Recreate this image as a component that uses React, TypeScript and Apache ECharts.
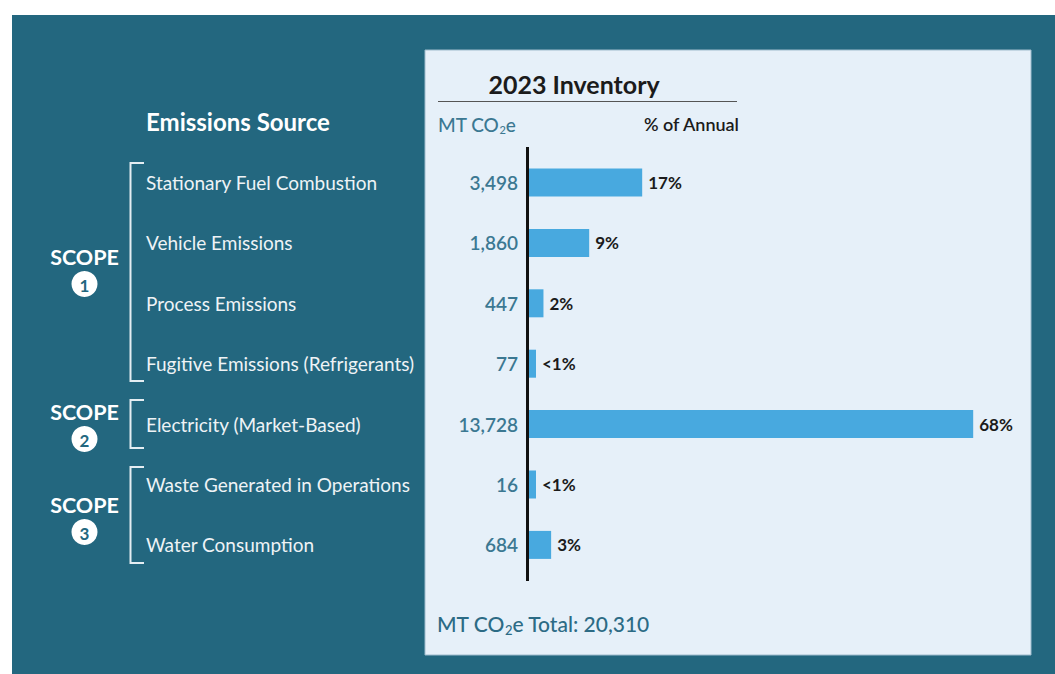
import React, { useEffect, useRef } from "react";
import * as echarts from "echarts";

const categories = [
  "Stationary Fuel Combustion",
  "Vehicle Emissions",
  "Process Emissions",
  "Fugitive Emissions (Refrigerants)",
  "Electricity (Market-Based)",
  "Waste Generated in Operations",
  "Water Consumption",
];
const mtValues = [3498, 1860, 447, 77, 13728, 16, 684];
const pctLabels = ["17%", "9%", "2%", "<1%", "68%", "<1%", "3%"];
const scopes = [
  { num: "1", textY: 257, circleY: 284, top: 163, bottom: 381 },
  { num: "2", textY: 412, circleY: 439, top: 400, bottom: 448 },
  { num: "3", textY: 505, circleY: 532, top: 467, bottom: 563 },
];

const FONT = "Lato, 'Open Sans', sans-serif";
const TEAL = "#23677f";
const PANEL = "#e6f0f9";
const BAR = "#48a9df";
const LIGHT = "#e4edf2";
const MTTEAL = "#3b7892";

export default function App() {
  const ref = useRef<HTMLDivElement>(null);
  useEffect(() => {
    if (!ref.current) return;
    const chart = echarts.init(ref.current, null, { renderer: "svg" });
    const total = mtValues.reduce((a, b) => a + b, 0);

    const graphics: any[] = [
      { type: "rect", z: -10, shape: { x: 12, y: 15, width: 1043, height: 659 }, style: { fill: TEAL } },
      { type: "rect", z: -9, shape: { x: 425, y: 50, width: 606, height: 605 }, style: { fill: PANEL, stroke: "#9fbccd", lineWidth: 1 } },
      {
        type: "text", x: 146, y: 121,
        style: { text: "Emissions Source", fill: "#ffffff", font: `bold 24px ${FONT}`, verticalAlign: "middle" },
      },
      {
        type: "text", x: 574, y: 84,
        style: { text: "2023 Inventory", fill: "#1b1b1b", font: `bold 25px ${FONT}`, align: "center", verticalAlign: "middle" },
      },
      { type: "line", shape: { x1: 438, y1: 101.5, x2: 737, y2: 101.5 }, style: { stroke: "#555", lineWidth: 1 } },
      {
        type: "text", x: 438, y: 124,
        style: {
          text: "{a|MT CO}{s|2}{a|e}",
          verticalAlign: "middle",
          rich: {
            a: { fill: MTTEAL, font: `500 19px ${FONT}` },
            s: { fill: MTTEAL, font: `500 11px ${FONT}`, padding: [11, 0, 0, 0] },
          },
        },
      },
      {
        type: "text", x: 739, y: 124,
        style: { text: "% of Annual", fill: "#1b1b1b", font: `600 18px ${FONT}`, align: "right", verticalAlign: "middle" },
      },
      { type: "line", z: 10, shape: { x1: 527.5, y1: 147, x2: 527.5, y2: 581 }, style: { stroke: "#111", lineWidth: 3 } },
      {
        type: "text", x: 437, y: 623,
        style: {
          text: `{a|MT CO}{s|2}{a|e Total: ${total.toLocaleString("en-US")}}`,
          verticalAlign: "middle",
          rich: {
            a: { fill: "#2c6b85", font: `500 21px ${FONT}` },
            s: { fill: "#2c6b85", font: `500 13px ${FONT}`, padding: [13, 0, 0, 0] },
          },
        },
      },
    ];

    scopes.forEach((s) => {
      graphics.push({
        type: "text", x: 84.5, y: s.textY,
        style: { text: "SCOPE", fill: "#ffffff", font: `bold 21.5px ${FONT}`, align: "center", verticalAlign: "middle" },
      });
      graphics.push({ type: "circle", shape: { cx: 84.5, cy: s.circleY, r: 13 }, style: { fill: "#ffffff" } });
      graphics.push({
        type: "text", x: 84.5, y: s.circleY + 1, z: 5,
        style: { text: s.num, fill: TEAL, font: `bold 17px ${FONT}`, align: "center", verticalAlign: "middle" },
      });
      graphics.push({
        type: "polyline",
        shape: { points: [[144, s.top], [130.5, s.top], [130.5, s.bottom], [144, s.bottom]] },
        style: { stroke: LIGHT, lineWidth: 2, fill: "none" },
      });
    });

    chart.setOption({
      animation: false,
      graphic: graphics,
      grid: { left: 529, top: 152.3, width: 453, height: 422.8, containLabel: false },
      xAxis: {
        type: "value", min: 0, max: 14000,
        show: false,
      },
      yAxis: [
        {
          type: "category", inverse: true, data: categories,
          axisLine: { show: false }, axisTick: { show: false },
          axisLabel: {
            margin: 11,
            color: MTTEAL, fontFamily: FONT, fontSize: 19, fontWeight: 600,
            formatter: (_v: string, i: number) => mtValues[i].toLocaleString("en-US"),
          },
        },
        {
          type: "category", inverse: true, data: categories, position: "left",
          axisLine: { show: false }, axisTick: { show: false },
          axisLabel: {
            margin: 383, align: "left",
            color: "#eef3f6", fontFamily: FONT, fontSize: 19,
          },
        },
      ],
      series: [
        {
          type: "bar", data: mtValues, barWidth: 28, barMinHeight: 7,
          itemStyle: { color: BAR },
          label: {
            show: true, position: "right", distance: 6,
            color: "#1b1b1b", fontFamily: FONT, fontSize: 17, fontWeight: "bold",
            formatter: (p: any) => pctLabels[p.dataIndex],
          },
        },
      ],
    });
    return () => chart.dispose();
  }, []);
  return (
    <div
      ref={ref}
      style={{ position: "fixed", left: 0, top: 0, width: 1055, height: 674, background: "#ffffff" }}
    />
  );
}
